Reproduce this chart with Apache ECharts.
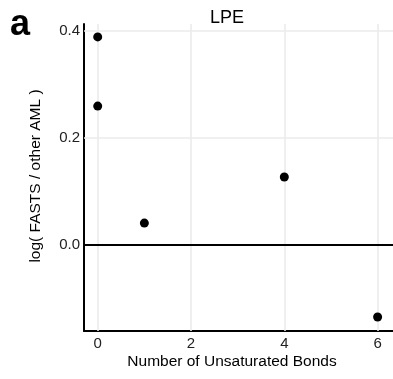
<!DOCTYPE html>
<html>
<head>
<meta charset="utf-8">
<script src="https://cdn.jsdelivr.net/npm/echarts@6/dist/echarts.min.js"></script>
<style>
  html, body { margin: 0; padding: 0; background: #fff; }
  #chart { width: 393px; height: 379px; }
</style>
</head>
<body>
<div id="chart"></div>
<script>
// LPE: log ratio of FASTS vs other AML by number of unsaturated bonds
const unsaturatedBonds = [0, 0, 1, 4, 6];
const logRatio = [0.388, 0.259, 0.041, 0.127, -0.134];
const xTicks = [0, 2, 4, 6];
const yTicks = [0.0, 0.2, 0.4];

const FONT = 'Liberation Sans, Arial, Helvetica, sans-serif';
const points = unsaturatedBonds.map((x, i) => [x, logRatio[i]]);

const gridColor = '#ebebeb';
const gridLines = [
  ...xTicks.map(v => ({ xAxis: v })),
  ...yTicks.filter(v => v !== 0).map(v => ({ yAxis: v }))
];

const chart = echarts.init(document.getElementById('chart'), null, { renderer: 'canvas' });
chart.setOption({
  animation: false,
  backgroundColor: '#ffffff',
  grid: { left: 84, right: 0, top: 24, bottom: 48, containLabel: false },
  xAxis: {
    type: 'value',
    min: -0.294,
    max: 6.33,
    axisLine: { show: true, onZero: false, lineStyle: { color: '#000', width: 2 } },
    axisTick: { show: false },
    splitLine: { show: false },
    axisLabel: {
      customValues: xTicks,
      color: '#222',
      fontFamily: FONT,
      fontSize: 15,
      margin: 5
    }
  },
  yAxis: {
    type: 'value',
    min: -0.16,
    max: 0.412,
    axisLine: { show: true, onZero: false, lineStyle: { color: '#000', width: 2 } },
    axisTick: { show: false },
    splitLine: { show: false },
    axisLabel: {
      customValues: yTicks,
      formatter: v => v.toFixed(1),
      color: '#222',
      fontFamily: FONT,
      fontSize: 15,
      margin: 4
    }
  },
  series: [
    {
      // background grid
      type: 'line',
      data: [],
      silent: true,
      z: 1,
      markLine: {
        silent: true,
        symbol: 'none',
        label: { show: false },
        lineStyle: { color: gridColor, width: 1.6, type: 'solid' },
        data: gridLines
      }
    },
    {
      // zero reference line
      type: 'line',
      data: [],
      silent: true,
      z: 2,
      markLine: {
        silent: true,
        symbol: 'none',
        label: { show: false },
        lineStyle: { color: '#000', width: 2, type: 'solid' },
        data: [{ yAxis: 0 }]
      }
    },
    {
      type: 'scatter',
      data: points,
      symbol: 'circle',
      symbolSize: 9,
      itemStyle: { color: '#000', opacity: 1 },
      z: 5
    }
  ],
  graphic: [
    {
      type: 'text', left: 10, top: 7,
      style: { text: 'a', font: 'bold 36px ' + FONT, fill: '#000' }
    },
    {
      type: 'text', x: 227, y: 18,
      style: { text: 'LPE', font: '18px ' + FONT, fill: '#000', textAlign: 'center', textVerticalAlign: 'middle' }
    },
    {
      type: 'text', x: 232, y: 362,
      style: { text: 'Number of Unsaturated Bonds', font: '15.5px ' + FONT, fill: '#000', textAlign: 'center', textVerticalAlign: 'middle' }
    },
    {
      type: 'text', x: 36, y: 176, rotation: Math.PI / 2,
      style: { text: 'log( FASTS / other AML )', font: '15.5px ' + FONT, fill: '#000', textAlign: 'center', textVerticalAlign: 'middle' }
    }
  ]
});
</script>
</body>
</html>
